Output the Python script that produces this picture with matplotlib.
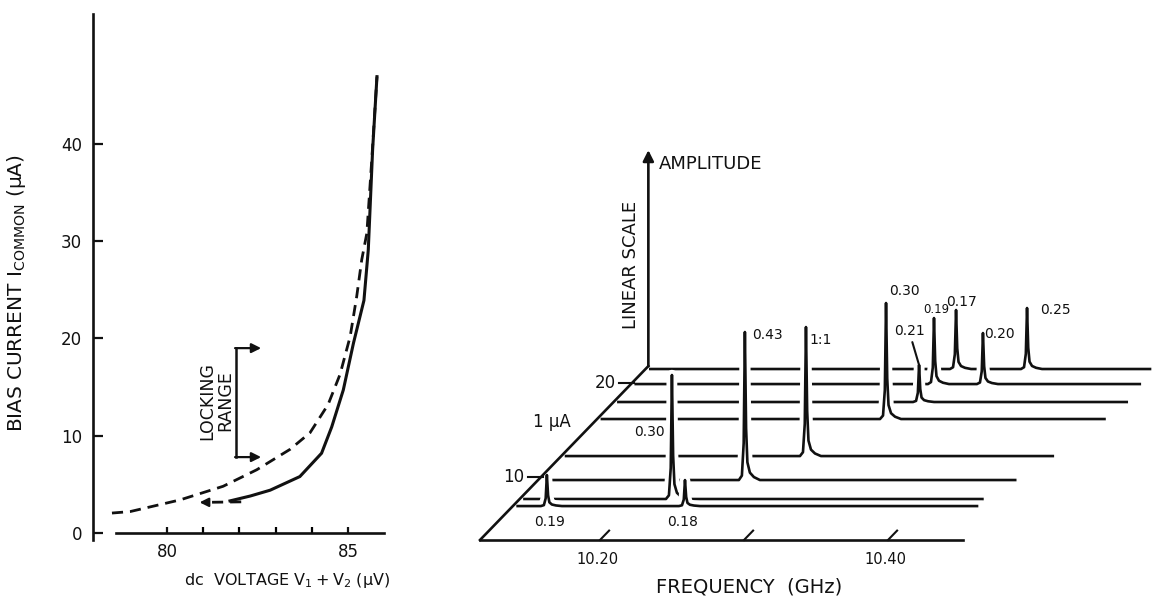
import numpy as np
import matplotlib
matplotlib.use("Agg")
import matplotlib.pyplot as plt
import matplotlib.patheffects as pe
from matplotlib.ticker import FixedLocator

plt.rcParams['font.family'] = ['DejaVu Sans']
plt.rcParams['mathtext.fontset'] = 'dejavusans'

# ---- left panel: bias current vs dc voltage ----
solid_v = [81.74, 82.30, 82.85, 83.67, 84.27, 84.55, 84.87, 85.15, 85.44, 85.56, 85.68, 85.80]
solid_i = [3.3, 3.8, 4.4, 5.8, 8.2, 10.9, 14.7, 19.5, 23.9, 29.1, 39.4, 46.9]
dashed_v = [78.48, 78.98, 80.36, 81.55, 82.48, 83.40, 83.95, 84.45, 84.78, 85.06, 85.24,
            85.38, 85.52, 85.65, 85.80]
dashed_i = [2.05, 2.2, 3.4, 4.8, 6.5, 8.6, 10.3, 13.2, 16.3, 20.2, 24.3, 28.1, 30.8, 38.0, 46.9]
return_v = [82.05, 81.05]
return_i = [3.2, 3.15]
locking_v = 81.9
locking_i = [7.8, 19.0]
locking_tip_v = 82.6
v_major = [80, 85]
v_minor = [81, 82, 83, 84]
i_major = [0, 10, 20, 30, 40]

# ---- right panel: spectra at several bias currents (back to front) ----
trace_bias = [21.49, 19.89, 17.98, 16.17, 12.23, 9.68, 7.66, 6.91]   # uA
trace_fmin = [10.120, 10.120, 10.120, 10.120, 10.120, 10.127, 10.120, 10.120]
trace_fmax = [10.467, 10.470, 10.473, 10.469, 10.458, 10.448, 10.438, 10.439]
peak_freq = [[10.3323, 10.3816], [10.3271, 10.3611], [10.3288], [10.3173],
             [10.2866], [10.2603], [10.2224], [10.1403, 10.2362]]
peak_amp = [[5.9, 6.1], [6.6, 5.1], [3.7], [11.6], [12.9], [14.8], [12.4], [3.1, 2.6]]
peak_text = [['0.17', '0.25'], ['0.19', '0.20'], ['0.21'], ['0.30'], ['1:1'],
             ['0.43'], ['0.30'], ['0.19', '0.18']]
freq_ticks = [10.20, 10.30, 10.40]
freq_labels = ['10.20', '', '10.40']
bias_ticks = [10, 20]
bias_labels = ['10', '20']

# label offsets from the peak tops (pixels) and sizes
label_off = [[(5, 8), (28, -2)], [(2, 9), (16, -1)], [(-10, 34)], [(18, 12)], [(15, -13)],
             [(23, -3)], [(-22, -57)], [(3, -47), (-2, -42)]]
label_size = [[10, 10], [8.5, 10], [10], [10], [10], [10], [10], [10, 10]]

# oblique projection of the waterfall
C0 = 3.3                 # bias at the front edge
BIAS_TOP = 21.8
AMP_TOP = 21.6
F_AXIS = 10.11667        # frequency where the depth axis sits
F_END = 10.4521
KX = 9.1 / 1440          # GHz shift per uA
KY = 0.94                # amplitude shift per uA
PX_GHZ = 1440.0
PEAK_DX = np.array([-6, -3, -1.2, 0, 1.2, 2.5, 5, 9, 15]) / PX_GHZ
PEAK_FR = np.array([0, 0.03, 0.25, 1, 0.35, 0.12, 0.05, 0.02, 0])


def proj(f, a, c):
    return np.asarray(f) + KX * (c - C0), np.asarray(a) + KY * (c - C0)


W, H = 1156, 597
fig = plt.figure(figsize=(W / 100, H / 100), dpi=100)
ink = '#111111'

# ---------------- left panel ----------------
ax = fig.add_axes([93 / W, 57 / H, (390 - 93) / W, (540 - 14) / H])
ax.set_xlim(77.956, 86.16)
ax.set_ylim(-0.72, 53.34)
for s in ['top', 'right']:
    ax.spines[s].set_visible(False)
ax.spines['bottom'].set_position(('data', 0))
ax.spines['bottom'].set_bounds(78.6, 86.0)
ax.spines['left'].set_bounds(-0.72, 53.3)
for s in ['bottom', 'left']:
    ax.spines[s].set_linewidth(1.9)
    ax.spines[s].set_color(ink)
ax.set_xticks(v_major)
ax.xaxis.set_minor_locator(FixedLocator(v_minor))
ax.set_yticks(i_major)
ax.yaxis.set_minor_locator(FixedLocator([0]))
ax.tick_params(axis='both', which='major', direction='in', length=7, width=1.6,
               labelsize=12, color=ink, labelcolor=ink)
ax.tick_params(axis='x', which='both', direction='in', length=4, width=1.6, pad=7)
ax.tick_params(axis='y', which='major', pad=8)
ax.tick_params(axis='y', which='minor', direction='out', length=6, width=1.6)

ax.plot(solid_v, solid_i, color=ink, lw=2.2, solid_joinstyle='miter')
ax.plot(dashed_v, dashed_i, color=ink, lw=2.0, ls=(0, (4, 2.5)))
ax.plot(return_v, return_i, color=ink, lw=2.0, ls=(0, (4, 2.5)))
ax.annotate('', xy=(return_v[1] - 0.15, return_i[1]), xytext=(return_v[1] + 0.1, return_i[1]),
            arrowprops=dict(arrowstyle='-|>', color=ink, lw=1.6, mutation_scale=13,
                            shrinkA=0, shrinkB=0))

ax.plot([locking_v, locking_v], locking_i, color=ink, lw=1.8)
for li in locking_i:
    ax.annotate('', xy=(locking_tip_v, li), xytext=(locking_v - 0.02, li),
                arrowprops=dict(arrowstyle='-|>', color=ink, lw=1.6, mutation_scale=14,
                                shrinkA=0, shrinkB=0))
ax.text(81.35, 13.6, 'LOCKING\nRANGE', rotation=90, ha='center', va='center',
        fontsize=12.5, color=ink, linespacing=1.0, multialignment='center')

fig.text(17 / W, 1 - 293 / H, r'BIAS CURRENT $\mathrm{I_{COMMON}}$ (µA)', rotation=90,
         ha='center', va='center', fontsize=14.5, color=ink)
fig.text(287 / W, 1 - 580 / H, r'dc  VOLTAGE $\mathrm{V_1 + V_2}$ (µV)',
         ha='center', va='center', fontsize=11.5, color=ink)

# ---------------- right panel ----------------
ax2 = fig.add_axes([440 / W, 0, (W - 440) / W, 1])
ax2.set_xlim(10.20 - 160 / PX_GHZ, 10.20 + 556 / PX_GHZ)
ax2.set_ylim(-5.7, 54.0)
ax2.axis('off')

halo = [pe.Stroke(linewidth=7.5, foreground='white'), pe.Normal()]
for k, c in enumerate(trace_bias):
    xs = [trace_fmin[k]]
    ys = [0.0]
    for f, a in zip(peak_freq[k], peak_amp[k]):
        xs += list(f + PEAK_DX)
        ys += list(a * PEAK_FR)
    xs.append(trace_fmax[k])
    ys.append(0.0)
    px, py = proj(xs, ys, c)
    ax2.plot(px, py, color=ink, lw=1.9, zorder=2 + k, path_effects=halo,
             solid_joinstyle='round', clip_on=False)
    for j, (f, a) in enumerate(zip(peak_freq[k], peak_amp[k])):
        tx, ty = proj(f, a, c)
        arrow = None
        if peak_text[k][j] == '0.21':
            arrow = dict(arrowstyle='-', color=ink, lw=1.5, shrinkA=1, shrinkB=0)
        ax2.annotate(peak_text[k][j], xy=(tx, ty), xytext=label_off[k][j],
                     textcoords='offset pixels', ha='center', va='center',
                     fontsize=label_size[k][j], color=ink, zorder=20, arrowprops=arrow)

# frequency axis with slanted ticks
fx, fy = proj([F_AXIS, F_END], [0, 0], C0)
ax2.plot(fx, fy, color=ink, lw=1.9, zorder=15)
for f, lab in zip(freq_ticks, freq_labels):
    x0, y0 = proj(f, 0, C0)
    x1, y1 = proj(f, 0, C0 + 1)
    ax2.plot([x0, x1], [y0, y1], color=ink, lw=1.5, zorder=15)
    if lab:
        ax2.annotate(lab, xy=(x0, y0), xytext=(-3, -20), textcoords='offset pixels',
                     ha='center', va='center', fontsize=10.5, color=ink)

# depth (bias) axis
dx, dy = proj([F_AXIS, F_AXIS], [0, 0], np.array([C0, BIAS_TOP]))
ax2.plot(dx, dy, color=ink, lw=1.9, zorder=15)
for c, lab in zip(bias_ticks, bias_labels):
    x0, y0 = proj(F_AXIS, 0, c)
    ax2.plot([x0 - 13 / PX_GHZ, x0 + 2 / PX_GHZ], [y0, y0], color=ink, lw=1.5, zorder=15)
    ax2.annotate(lab, xy=(x0, y0), xytext=(-27, 0), textcoords='offset pixels',
                 ha='center', va='center', fontsize=12, color=ink)

# amplitude axis
ax0, ay0 = proj(F_AXIS, 0, BIAS_TOP)
ax2.annotate('', xy=(ax0, ay0 + AMP_TOP), xytext=(ax0, ay0),
             arrowprops=dict(arrowstyle='-|>', color=ink, lw=1.9, mutation_scale=16,
                             shrinkA=0, shrinkB=0), zorder=15)
ax2.annotate('AMPLITUDE', xy=(ax0, ay0 + AMP_TOP), xytext=(11, -14),
             textcoords='offset pixels', ha='left', va='center', fontsize=13, color=ink)
ax2.annotate('LINEAR SCALE', xy=(ax0, ay0 + AMP_TOP), xytext=(-17, -115),
             textcoords='offset pixels', ha='center', va='center', rotation=90,
             fontsize=13, color=ink)

ax2.text(10.20 + (552 - 600) / PX_GHZ, (540 - 422) / 10, '1 µA', ha='center', va='center',
         fontsize=12, color=ink)
ax2.text(10.20 + (749 - 600) / PX_GHZ, (540 - 587) / 10, 'FREQUENCY  (GHz)', ha='center',
         va='center', fontsize=14, color=ink)

fig.savefig('out.png', dpi=100, facecolor='white')
